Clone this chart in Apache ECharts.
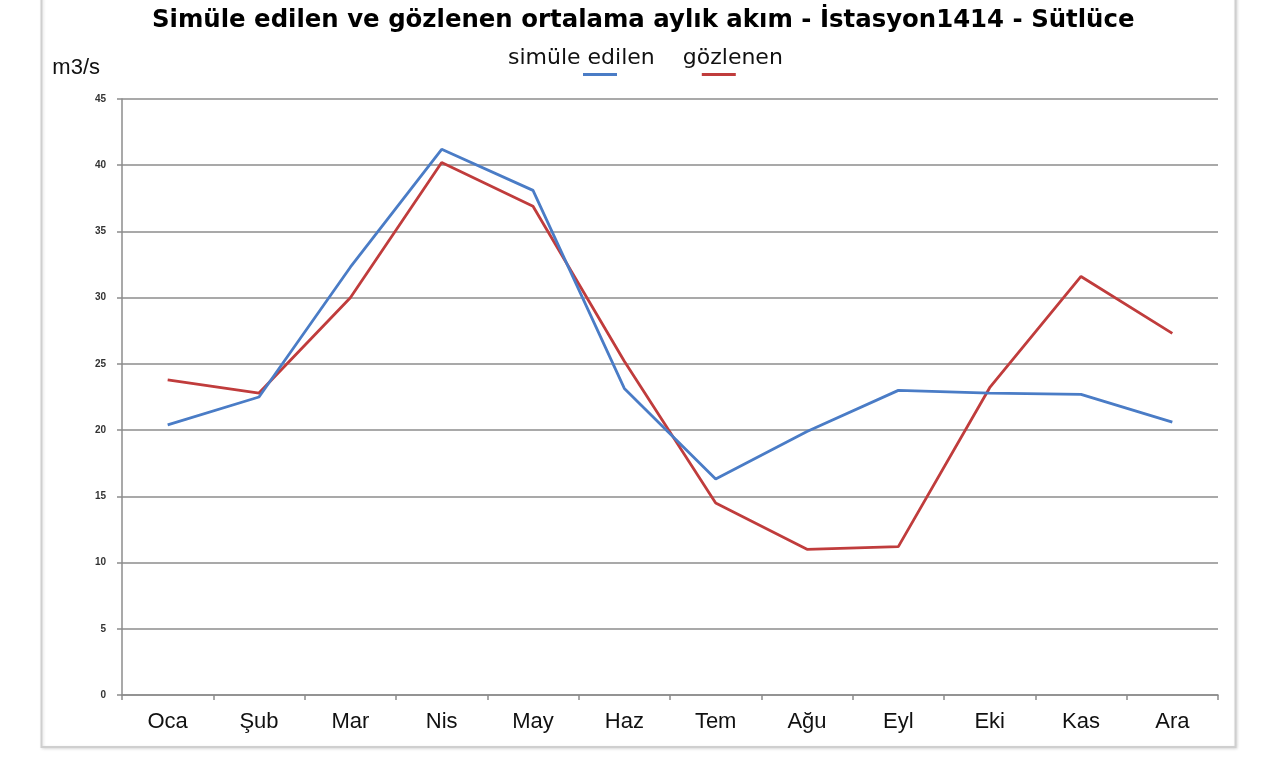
<!DOCTYPE html>
<html>
<head>
<meta charset="utf-8">
<script src="https://cdn.jsdelivr.net/npm/echarts@6/dist/echarts.min.js"></script>
<style>
html,body{margin:0;padding:0;background:#fff;}
#c{width:1273px;height:757px;}
</style>
</head>
<body>
<div id="c"></div>
<script>
const titleText = 'Simüle edilen ve gözlenen ortalama aylık akım - İstasyon1414 - Sütlüce';
const unitLabel = 'm3/s';
const months = ['Oca','Şub','Mar','Nis','May','Haz','Tem','Ağu','Eyl','Eki','Kas','Ara'];
const simName = 'simüle edilen';
const obsName = 'gözlenen';
const simulated = [20.4, 22.5, 32.3, 41.2, 38.1, 23.15, 16.3, 19.9, 23.0, 22.8, 22.7, 20.6];
const observed  = [23.8, 22.8, 30.0, 40.2, 36.9, 25.2, 14.5, 11.0, 11.2, 23.2, 31.6, 27.3];
const yTicks = [0,5,10,15,20,25,30,35,40,45];

const BLUE = '#4a7cc6';
const RED = '#c03c3c';
const FONT = '"Liberation Sans", Arial, sans-serif';
const WIDEFONT = '"DejaVu Sans", Verdana, sans-serif';

const chart = echarts.init(document.getElementById('c'), null, {renderer:'canvas'});
chart.setOption({
  animation:false,
  backgroundColor:'#ffffff',
  graphic:[{
    type:'rect', silent:true, z:-10,
    shape:{x:41.5, y:-10, width:1194, height:757},
    style:{fill:'#ffffff', stroke:'#cfcfcf', lineWidth:2, shadowColor:'rgba(0,0,0,0.12)', shadowBlur:3, shadowOffsetX:1, shadowOffsetY:1}
  }],
  title:{
    text:titleText,
    left:147, top:4,
    textStyle:{fontFamily:WIDEFONT, fontWeight:'bold', fontSize:24.4, color:'#000'}
  },
  legend:{
    data:[simName, obsName],
    left:503, top:47, padding:0,
    itemWidth:0, itemHeight:0, itemGap:23,
    icon:'rect',
    selectedMode:false,
    formatter:function(name){
      return name === simName ? '{t|' + name + '}\n{sb|}{lb|}' : '{t|' + name + '}\n{sr|}{lr|}';
    },
    textStyle:{
      fontFamily:WIDEFONT, fontSize:22, color:'#111',
      rich:{
        t:{fontFamily:WIDEFONT, fontSize:22, color:'#111', lineHeight:23},
        sb:{width:75, height:3, lineHeight:10},
        lb:{width:34, height:3, lineHeight:10, backgroundColor:BLUE},
        sr:{width:19, height:3, lineHeight:10},
        lr:{width:34, height:3, lineHeight:10, backgroundColor:RED}
      }
    }
  },
  grid:{left:122, right:55, top:99, bottom:62, containLabel:false},
  xAxis:{
    type:'category',
    data:months,
    boundaryGap:true,
    axisLine:{lineStyle:{color:'#8c8c8c', width:1.5}},
    axisTick:{show:true, inside:false, length:5, lineStyle:{color:'#8c8c8c', width:1.5}},
    axisLabel:{fontFamily:FONT, fontSize:22, color:'#111', margin:16}
  },
  yAxis:{
    type:'value',
    min:0, max:45, interval:5,
    name:unitLabel,
    nameLocation:'end',
    nameGap:20,
    nameTextStyle:{fontFamily:FONT, fontSize:22, color:'#111', align:'right', padding:[0,22,0,0]},
    axisLine:{show:true, lineStyle:{color:'#8c8c8c', width:1.5}},
    axisTick:{show:true, length:5, lineStyle:{color:'#8c8c8c', width:1.5}},
    axisLabel:{fontFamily:FONT, fontSize:10, fontWeight:'bold', color:'#333', margin:16,
      formatter:function(v){ return yTicks.indexOf(v) >= 0 ? String(v) : ''; }},
    splitLine:{show:true, lineStyle:{color:'#8c8c8c', width:1.5}}
  },
  series:[
    {name:simName, type:'line', data:simulated, symbol:'none', smooth:false,
     lineStyle:{color:BLUE, width:2.8}, itemStyle:{color:BLUE}, z:3},
    {name:obsName, type:'line', data:observed, symbol:'none', smooth:false,
     lineStyle:{color:RED, width:2.8}, itemStyle:{color:RED}, z:2}
  ]
});
</script>
</body>
</html>
